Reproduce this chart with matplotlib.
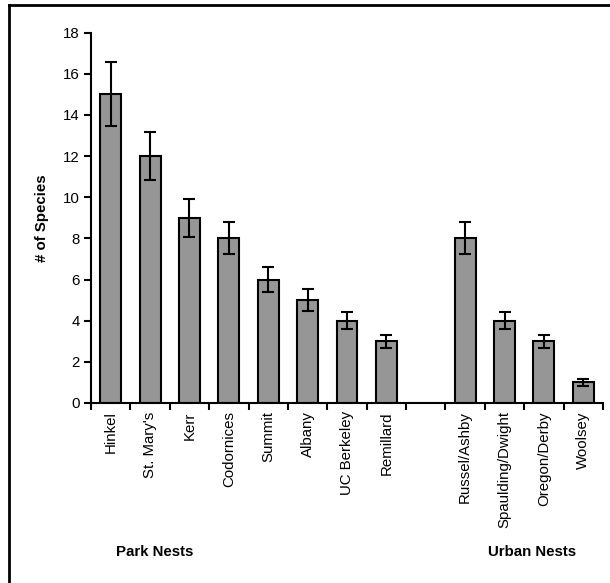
import numpy as np
import matplotlib.pyplot as plt
import matplotlib.lines as mlines
from matplotlib.ticker import FixedLocator

plt.rcParams['font.family'] = ['Liberation Sans', 'DejaVu Sans']

park_sites = ['Hinkel', "St. Mary's", 'Kerr', 'Codornices', 'Summit',
              'Albany', 'UC Berkeley', 'Remillard']
park_species = [15, 12, 9, 8, 6, 5, 4, 3]
park_err = [1.55, 1.17, 0.93, 0.78, 0.63, 0.55, 0.41, 0.31]

urban_sites = ['Russel/Ashby', 'Spaulding/Dwight', 'Oregon/Derby', 'Woolsey']
urban_species = [8, 4, 3, 1]
urban_err = [0.78, 0.41, 0.31, 0.18]

# one empty slot between the two groups
labels = park_sites + [''] + urban_sites
values = park_species + [np.nan] + urban_species
errors = park_err + [np.nan] + urban_err
x = np.arange(len(labels))

fig = plt.figure(figsize=(6.10, 5.83), dpi=100)
ax = fig.add_axes([91 / 610, 1 - 403 / 583, 512 / 610, 370.5 / 583])

ax.bar(x, values, width=0.53, color='#969696', edgecolor='black', linewidth=1.5, zorder=2)
ax.errorbar(x, values, yerr=errors, fmt='none', ecolor='black', elinewidth=1.5,
            capsize=4.3, capthick=1.5, zorder=3)

ax.set_xlim(-0.5, len(labels) - 0.5)
ax.set_ylim(0, 18)
ax.set_yticks(range(0, 19, 2))
ax.set_xticks(x)
ax.set_xticklabels(labels, rotation=90, fontsize=10.8)
ax.xaxis.set_minor_locator(FixedLocator(np.arange(-0.5, len(labels), 1)))
ax.tick_params(axis='x', which='major', length=0, pad=6)
ax.tick_params(axis='x', which='minor', length=5, width=1.5, direction='out')
ax.tick_params(axis='y', length=5, width=1.5, direction='out', labelsize=10.8, pad=3)

for side in ['top', 'right']:
    ax.spines[side].set_visible(False)
for side in ['left', 'bottom']:
    ax.spines[side].set_linewidth(1.5)

ax.set_ylabel('# of Species', fontsize=10.8, fontweight='bold', labelpad=10)

fig.text(155 / 610, 1 - 552 / 583, 'Park Nests', ha='center', va='center',
         fontsize=10.8, fontweight='bold')
fig.text(532 / 610, 1 - 552 / 583, 'Urban Nests', ha='center', va='center',
         fontsize=10.8, fontweight='bold')

# chart frame (left and top edges)
fig.add_artist(mlines.Line2D([8.5 / 610, 8.5 / 610], [0, 1 - 4.5 / 583],
                             color='black', linewidth=2, transform=fig.transFigure))
fig.add_artist(mlines.Line2D([8.5 / 610, 1], [1 - 4.5 / 583, 1 - 4.5 / 583],
                             color='black', linewidth=2, transform=fig.transFigure))

fig.savefig('out.png', dpi=100)
